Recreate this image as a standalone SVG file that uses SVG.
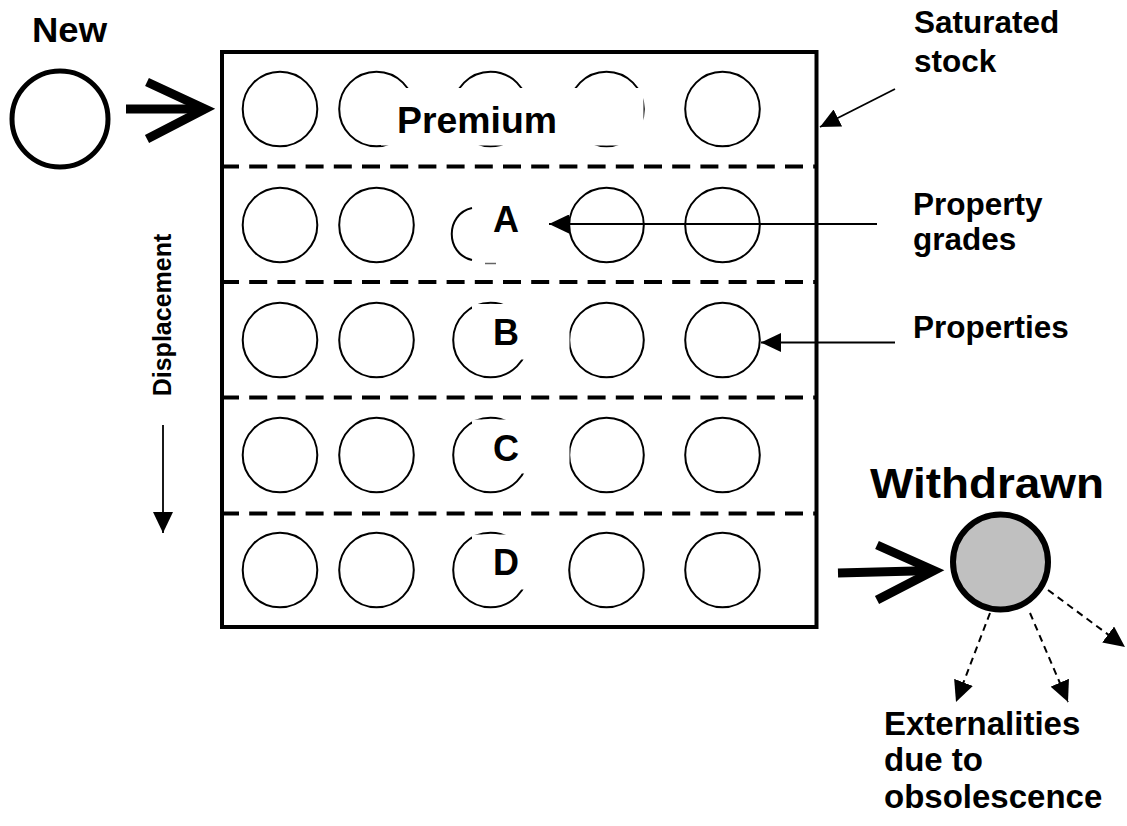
<svg xmlns="http://www.w3.org/2000/svg" width="1127" height="826" viewBox="0 0 1127 826">
  <style>
    text { font-family: "Liberation Sans", Arial, Helvetica, sans-serif; font-weight: bold; fill: #000; }
    .prop { fill: #fff; stroke: #000; stroke-width: 2; }
    .arc { fill: none; stroke: #000; stroke-width: 2; }
    .mask { fill: #fff; stroke: none; }
    .divider { stroke: #000; stroke-width: 4; stroke-dasharray: 18 10.2; fill: none; }
    .thin { stroke: #000; stroke-width: 1.8; fill: none; }
    .dash { stroke: #000; stroke-width: 2; stroke-dasharray: 7 5; fill: none; }
    .bold { stroke: #000; stroke-width: 9; fill: none; stroke-linejoin: miter; stroke-miterlimit: 10; }
    .big { font-size: 36px; }
    .label { font-size: 31.5px; }
    .ext { font-size: 33px; }
  </style>
  <defs>
    <marker id="head" viewBox="0 0 20 19" refX="20" refY="9.5" markerWidth="20" markerHeight="19" markerUnits="userSpaceOnUse" orient="auto">
      <path d="M0,0 L20,9.5 L0,19 z" fill="#000"/>
    </marker>
    <marker id="head-lg" viewBox="0 0 21 20" refX="21" refY="10" markerWidth="21" markerHeight="20" markerUnits="userSpaceOnUse" orient="auto">
      <path d="M0,0 L21,10 L0,20 z" fill="#000"/>
    </marker>
  </defs>

  <!-- stock frame and grade dividers -->
  <g id="stock">
    <rect x="222" y="52" width="594.5" height="575" fill="#fff" stroke="#000" stroke-width="4"/>
    <line class="divider" x1="221" y1="166.5" x2="815" y2="166.5"/>
    <line class="divider" x1="221" y1="282" x2="815" y2="282"/>
    <line class="divider" x1="221" y1="397.5" x2="815" y2="397.5"/>
    <line class="divider" x1="221" y1="513.5" x2="815" y2="513.5"/>
  </g>

  <!-- grade Premium -->
  <g id="grade-premium">
    <circle class="prop" cx="280" cy="109" r="37.3"/>
    <circle class="prop" cx="376.5" cy="109" r="37.3"/>
    <circle class="prop" cx="490.5" cy="109" r="37.3"/>
    <circle class="prop" cx="606.5" cy="109" r="37.3"/>
    <circle class="prop" cx="722.5" cy="109" r="37.3"/>
    <rect class="mask" x="381" y="88" width="262.5" height="57.5"/>
    <text class="big" x="397" y="133" textLength="160" lengthAdjust="spacingAndGlyphs">Premium</text>
  </g>

  <!-- grade A -->
  <g id="grade-a">
    <circle class="prop" cx="280" cy="225" r="37.3"/>
    <circle class="prop" cx="376.5" cy="225" r="37.3"/>
    <path class="arc" d="M472,208 C445,214 445,254 472,260"/>
    <line x1="485" y1="263.5" x2="496" y2="263.5" stroke="#000" stroke-width="1.5" opacity="0.6"/>
    <circle class="prop" cx="606.5" cy="225" r="37.3"/>
    <circle class="prop" cx="722.5" cy="225" r="37.3"/>
    <text class="big" x="506" y="232" text-anchor="middle">A</text>
  </g>

  <!-- grade B -->
  <g id="grade-b">
    <circle class="prop" cx="280" cy="340" r="37.3"/>
    <circle class="prop" cx="376.5" cy="340" r="37.3"/>
    <circle class="prop" cx="490.5" cy="340" r="37.3"/>
    <circle class="prop" cx="606.5" cy="340" r="37.3"/>
    <circle class="prop" cx="722.5" cy="340" r="37.3"/>
    <rect class="mask" x="472" y="304" width="97.5" height="55.5"/>
    <text class="big" x="506" y="345" text-anchor="middle">B</text>
  </g>

  <!-- grade C -->
  <g id="grade-c">
    <circle class="prop" cx="280" cy="455" r="37.3"/>
    <circle class="prop" cx="376.5" cy="455" r="37.3"/>
    <circle class="prop" cx="490.5" cy="455" r="37.3"/>
    <circle class="prop" cx="606.5" cy="455" r="37.3"/>
    <circle class="prop" cx="722.5" cy="455" r="37.3"/>
    <rect class="mask" x="472" y="419.5" width="97.5" height="54"/>
    <text class="big" x="506" y="461" text-anchor="middle">C</text>
  </g>

  <!-- grade D -->
  <g id="grade-d">
    <circle class="prop" cx="280" cy="570" r="37.3"/>
    <circle class="prop" cx="376.5" cy="570" r="37.3"/>
    <circle class="prop" cx="490.5" cy="570" r="37.3"/>
    <circle class="prop" cx="606.5" cy="570" r="37.3"/>
    <circle class="prop" cx="722.5" cy="570" r="37.3"/>
    <rect class="mask" x="472" y="534.5" width="88" height="55"/>
    <text class="big" x="506" y="575" text-anchor="middle">D</text>
  </g>

  <!-- incoming property -->
  <g id="new">
    <text x="32" y="42" font-size="35" textLength="75" lengthAdjust="spacingAndGlyphs">New</text>
    <circle cx="60" cy="119" r="48" fill="#fff" stroke="#000" stroke-width="5"/>
  </g>

  <!-- withdrawn property -->
  <g id="withdrawn">
    <text x="870" y="498" font-size="42" textLength="234" lengthAdjust="spacingAndGlyphs">Withdrawn</text>
    <circle cx="1000.5" cy="562" r="47.5" fill="#c0c0c0" stroke="#000" stroke-width="6"/>
  </g>

  <!-- side labels -->
  <g id="labels">
    <text class="label" x="914" y="33">Saturated</text>
    <text class="label" x="914" y="72">stock</text>
    <text class="label" x="913" y="215">Property</text>
    <text class="label" x="913" y="250">grades</text>
    <text class="label" x="913" y="338">Properties</text>
    <text class="ext" x="884" y="735">Externalities</text>
    <text class="ext" x="884" y="771">due to</text>
    <text class="ext" x="884" y="808">obsolescence</text>
    <text x="0" y="0" font-size="25" text-anchor="middle" transform="translate(170.5,315) rotate(-90)">Displacement</text>
  </g>

  <!-- connectors -->
  <g id="connectors">
    <line class="thin" x1="895" y1="89" x2="820" y2="127" marker-end="url(#head)"/>
    <line class="thin" x1="877" y1="224" x2="549" y2="224" marker-end="url(#head)"/>
    <line class="thin" x1="895" y1="342.5" x2="761" y2="342.5" marker-end="url(#head)"/>
    <line class="thin" x1="163" y1="425" x2="163" y2="533" marker-end="url(#head-lg)"/>

    <line class="bold" x1="126" y1="109" x2="204" y2="109"/>
    <path class="bold" d="M147,82 L205,109 L147,139"/>

    <line class="bold" x1="838" y1="573" x2="934" y2="570.5"/>
    <path class="bold" d="M877,545 L934,570.5 L877,600"/>

    <line class="dash" x1="990" y1="613" x2="956" y2="702" marker-end="url(#head-lg)"/>
    <line class="dash" x1="1030" y1="613" x2="1068" y2="702" marker-end="url(#head-lg)"/>
    <line class="dash" x1="1048" y1="590" x2="1125" y2="647" marker-end="url(#head-lg)"/>
  </g>
</svg>
